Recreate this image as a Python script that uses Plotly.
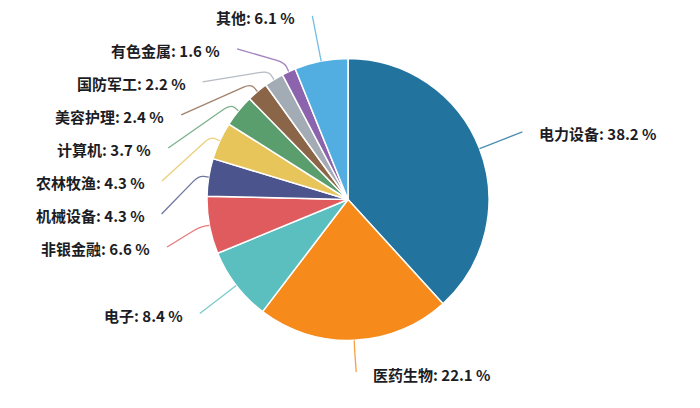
import math
import plotly.graph_objects as go

# ---- data ----
categories = ["电力设备", "医药生物", "电子", "非银金融", "机械设备", "农林牧渔",
              "计算机", "美容护理", "国防军工", "有色金属", "其他"]
values = [38.2, 22.1, 8.4, 6.6, 4.3, 4.3, 3.7, 2.4, 2.2, 1.6, 6.1]
colors = ["#22739e", "#f68a1a", "#5bbfbf", "#e05b5e", "#4b548c", "#e8c55a",
          "#5b9e6e", "#8b6548", "#a3acb5", "#8c63ad", "#52ade0"]

# ---- layout constants (pixels, figure coordinates) ----
W, H = 700, 408
OFF = 8            # page body margin
CX, CY, R = 348 - OFF, 199.5 - OFF, 141
LEN1 = 10          # radial part of label line
R2 = 187           # radius where label lines end
GAP = 33           # min vertical spacing between labels
LABEL_DIST = 15    # gap between line end and text
BOTTOM = H - OFF - 36   # lowest allowed label line end


def px(x):
    return x / W


def py(y):
    return 1 - y / H


total = sum(values)
items = []
cum = 0.0
for name, v, c in zip(categories, values, colors):
    mid = (cum + v / 2) / total * 2 * math.pi
    cum += v
    s, co = math.sin(mid), math.cos(mid)
    items.append(dict(
        name=name, value=v, color=c, s=s, co=co,
        p0=(CX + R * s, CY - R * co),
        p1=(CX + (R + LEN1) * s, CY - (R + LEN1) * co),
        y=min(CY - R2 * co, BOTTOM), x=CX + R2 * s,
        side=1 if s >= 0 else -1,
    ))

# simple overlap avoidance per side (push downwards)
for side in (1, -1):
    group = sorted([it for it in items if it["side"] == side], key=lambda d: d["y"])
    last = None
    for it in group:
        if last is not None and it["y"] < last + GAP:
            it["y"] = last + GAP
            dy = min(abs(it["y"] - CY), R2)
            it["x"] = CX + side * math.sqrt(R2 * R2 - dy * dy)
        last = it["y"]

fig = go.Figure(go.Pie(
    labels=categories,
    values=values,
    marker=dict(colors=colors, line=dict(color="white", width=1.5)),
    sort=False,
    direction="clockwise",
    rotation=0,
    textinfo="none",
    hoverinfo="label+percent",
    domain=dict(x=[px(CX - R), px(CX + R)], y=[py(CY + R), py(CY - R)]),
    showlegend=False,
))

shapes = []
annotations = []
for it in items:
    x0, y0 = it["p0"]
    x1, y1 = it["p1"]
    x2, y2 = it["x"], it["y"]
    ax, ay = x1 + (x0 - x1) * 0.5, y1 + (y0 - y1) * 0.5
    d = math.hypot(x2 - x1, y2 - y1) or 1
    t = min(8, d * 0.3)
    bx, by = x1 + (x2 - x1) / d * t, y1 + (y2 - y1) / d * t
    path = (f"M {px(x0)},{py(y0)} L {px(ax)},{py(ay)} "
            f"Q {px(x1)},{py(y1)} {px(bx)},{py(by)} L {px(x2)},{py(y2)}")
    shapes.append(dict(type="path", path=path, xref="paper", yref="paper",
                       line=dict(color=it["color"], width=1.3), opacity=0.8))
    tx = x2 + it["side"] * LABEL_DIST
    annotations.append(dict(
        x=px(tx), y=py(y2 + 2), xref="paper", yref="paper",
        text=f"{it['name']}: {it['value']:.1f} %",
        showarrow=False,
        xanchor="left" if it["side"] > 0 else "right",
        yanchor="middle",
        font=dict(family="Noto Sans CJK SC", size=15, color="#1c1c24", weight="bold"),
    ))

fig.update_layout(
    width=W, height=H,
    margin=dict(l=0, r=0, t=0, b=0),
    paper_bgcolor="white",
    plot_bgcolor="white",
    shapes=shapes,
    annotations=annotations,
)

fig.write_html("out.html")
